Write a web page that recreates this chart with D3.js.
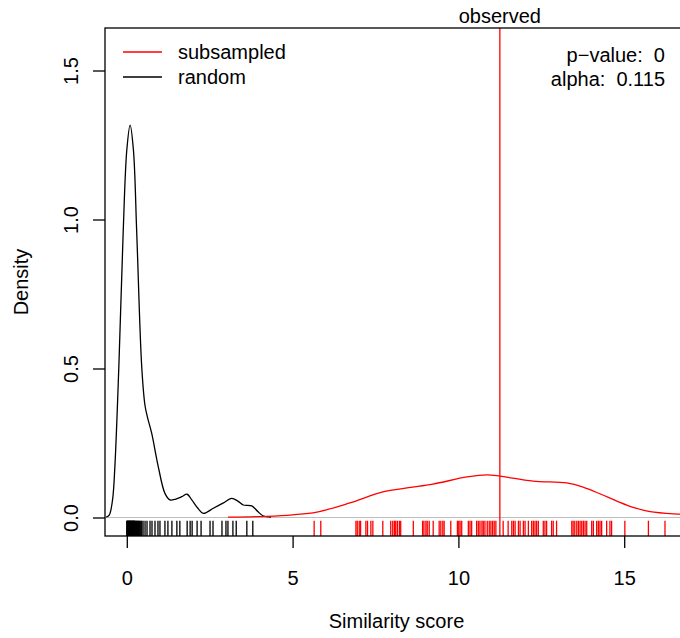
<!DOCTYPE html>
<html>
<head>
<meta charset="utf-8">
<script src="https://cdn.jsdelivr.net/npm/d3@7"></script>
<style>
  body { margin: 0; background: #fff; }
  svg { display: block; font-family: "Liberation Sans", Arial, Helvetica, sans-serif; }
</style>
</head>
<body>
<div id="chart"></div>
<script>
// density curve of the random scores (x = score, y = density)
const randomX = [-0.62, -0.53, -0.43, -0.36, -0.24, -0.11, 0.0, 0.10, 0.20, 0.30, 0.45, 0.55, 0.62, 0.75, 0.95, 1.15, 1.30, 1.48, 1.66, 1.82, 1.96, 2.15, 2.31, 2.61, 2.90, 3.16, 3.35, 3.51, 3.77, 3.95, 4.12, 4.35];
const randomY = [0.001, 0.008, 0.059, 0.170, 0.506, 0.954, 1.233, 1.317, 1.233, 0.954, 0.506, 0.375, 0.338, 0.283, 0.170, 0.081, 0.059, 0.062, 0.070, 0.078, 0.059, 0.030, 0.014, 0.031, 0.048, 0.064, 0.055, 0.042, 0.039, 0.020, 0.005, 0.001];

// density curve of the subsampled scores
const subsampledX = [3.05, 4.23, 5.0, 5.73, 6.73, 7.72, 8.5, 9.23, 10.26, 10.86, 11.25, 12.25, 13.27, 13.76, 14.3, 14.78, 15.3, 15.78, 16.68, 17.5];
const subsampledY = [0.001, 0.004, 0.009, 0.018, 0.049, 0.086, 0.100, 0.112, 0.136, 0.143, 0.139, 0.122, 0.116, 0.102, 0.078, 0.055, 0.033, 0.020, 0.011, 0.006];

// rug values
const randomRug = [0.00, 0.01, 0.02, 0.03, 0.04, 0.05, 0.06, 0.07, 0.08, 0.09, 0.10, 0.11, 0.12, 0.13, 0.14, 0.15, 0.16, 0.17, 0.18, 0.19,
  0.20, 0.21, 0.22, 0.23, 0.24, 0.25, 0.27, 0.29, 0.31, 0.33, 0.35, 0.37, 0.39, 0.42, 0.45,
  0.49, 0.55, 0.61, 0.70, 0.76, 0.85, 0.94, 1.00, 1.15, 1.24, 1.36, 1.51, 1.60, 1.82, 1.91, 1.97, 2.12, 2.24, 2.51, 2.60, 2.87, 2.99, 3.05, 3.20, 3.30, 3.62, 3.80];
const subsampledRug = [5.65, 5.85, 6.91, 6.95, 7.01, 7.05, 7.21, 7.26, 7.36, 7.42, 7.72, 7.96, 8.02, 8.07, 8.11, 8.16, 8.22, 8.26, 8.64,
  8.92, 8.96, 9.02, 9.06, 9.12, 9.24, 9.42, 9.47, 9.53, 9.57, 9.77, 9.97, 10.01, 10.05, 10.10, 10.30, 10.35, 10.40,
  10.55, 10.60, 10.65, 10.71, 10.75, 10.80, 10.87, 10.93, 10.98, 11.03, 11.08, 11.13, 11.35, 11.50, 11.61, 11.66, 11.71,
  11.81, 11.86, 11.96, 12.01, 12.11, 12.21, 12.26, 12.31, 12.36, 12.41, 12.56, 12.61, 12.66, 12.81, 12.86, 12.96,
  13.42, 13.46, 13.51, 13.57, 13.62, 13.67, 13.72, 13.77, 13.82, 13.87, 14.02, 14.07, 14.17, 14.22, 14.27, 14.32,
  14.47, 14.57, 14.62, 15.02, 15.73, 16.23];

const observed = 11.25;
const xTicks = [0, 5, 10, 15];
const yTicks = [0, 0.5, 1.0, 1.5];
const legendLabels = ["subsampled", "random"];
const legendColors = ["#ff0000", "#000000"];
const statLabels = ["p\u2212value:  0", "alpha:  0.115"];

const width = 680, height = 638;
const plotLeft = 105, plotTop = 28, plotBottom = 536;
const fs = "20px";

const svg = d3.select("#chart").append("svg").attr("width", width).attr("height", height);

const x = d3.scaleLinear().domain([0, 15]).range([126.8, 624.2]);
const y = d3.scaleLinear().domain([0, 1.5]).range([517.5, 70.5]);

svg.append("defs").append("clipPath").attr("id", "plotclip")
   .append("rect").attr("x", plotLeft).attr("y", plotTop).attr("width", width + 50 - plotLeft).attr("height", plotBottom - plotTop);

const plot = svg.append("g").attr("clip-path", "url(#plotclip)");

// zero line
plot.append("line")
   .attr("x1", plotLeft).attr("x2", width + 10)
   .attr("y1", y(0)).attr("y2", y(0))
   .attr("stroke", "#bebebe").attr("stroke-width", 1.2);

const line = d3.line().x(d => x(d[0])).y(d => y(d[1])).curve(d3.curveCatmullRom.alpha(0.5));

plot.append("path")
   .datum(randomX.map((v, i) => [v, randomY[i]]))
   .attr("d", line).attr("fill", "none").attr("stroke", "#000").attr("stroke-width", 1.3);

plot.append("path")
   .datum(subsampledX.map((v, i) => [v, subsampledY[i]]))
   .attr("d", line).attr("fill", "none").attr("stroke", "#ff0000").attr("stroke-width", 1.3);

// rugs
const rugTop = plotBottom - 15.3;
plot.selectAll(".rug-random").data(randomRug).enter().append("line")
   .attr("class", "rug-random")
   .attr("x1", d => x(d)).attr("x2", d => x(d))
   .attr("y1", rugTop).attr("y2", plotBottom)
   .attr("stroke", "#000").attr("stroke-width", 1.3);

plot.selectAll(".rug-sub").data(subsampledRug).enter().append("line")
   .attr("class", "rug-sub")
   .attr("x1", d => x(d)).attr("x2", d => x(d))
   .attr("y1", rugTop).attr("y2", plotBottom)
   .attr("stroke", "#ff0000").attr("stroke-width", 1.3);

// observed line
plot.append("line")
   .attr("x1", x(observed)).attr("x2", x(observed))
   .attr("y1", plotTop).attr("y2", plotBottom)
   .attr("stroke", "#ff0000").attr("stroke-width", 1.3);

// box
svg.append("rect")
   .attr("x", plotLeft).attr("y", plotTop)
   .attr("width", width + 50 - plotLeft).attr("height", plotBottom - plotTop)
   .attr("fill", "none").attr("stroke", "#000").attr("stroke-width", 1.3);

// x axis
const xAxis = svg.append("g")
   .attr("transform", `translate(0,${plotBottom})`)
   .call(d3.axisBottom(x).tickValues(xTicks).tickSize(12).tickPadding(23).tickFormat(d3.format("d")));
xAxis.select(".domain").remove();
xAxis.selectAll("line").attr("stroke", "#000").attr("stroke-width", 1.3);
xAxis.selectAll("text").attr("fill", "#000").style("font-size", fs).style("font-family", "Liberation Sans, Arial, sans-serif");

// y axis, labels parallel to the axis
const yAxis = svg.append("g")
   .attr("transform", `translate(${plotLeft},0)`)
   .call(d3.axisLeft(y).tickValues(yTicks).tickSize(12).tickFormat(d3.format(".1f")));
yAxis.select(".domain").remove();
yAxis.selectAll("line").attr("stroke", "#000").attr("stroke-width", 1.3);
yAxis.selectAll("text")
   .attr("x", null).attr("dy", null)
   .attr("text-anchor", "middle")
   .attr("transform", "translate(-27,0) rotate(-90)")
   .attr("fill", "#000").style("font-size", fs).style("font-family", "Liberation Sans, Arial, sans-serif");

// axis titles
svg.append("text")
   .attr("x", (plotLeft + 680) / 2 + 4).attr("y", 628)
   .attr("text-anchor", "middle").style("font-size", fs)
   .text("Similarity score");

svg.append("text")
   .attr("transform", `translate(28,${(plotTop + plotBottom) / 2}) rotate(-90)`)
   .attr("text-anchor", "middle").style("font-size", fs)
   .text("Density");

// observed label
svg.append("text")
   .attr("x", x(observed)).attr("y", 23)
   .attr("text-anchor", "middle").style("font-size", fs)
   .text("observed");

// legend
const legend = svg.append("g");
legendLabels.forEach((lab, i) => {
   const ly = 52 + i * 25;
   legend.append("line")
      .attr("x1", 123).attr("x2", 162).attr("y1", ly).attr("y2", ly)
      .attr("stroke", legendColors[i]).attr("stroke-width", 1.3);
   legend.append("text")
      .attr("x", 178).attr("y", ly + 7.2)
      .style("font-size", fs).text(lab);
});

// stats (keep the double spaces)
statLabels.forEach((lab, i) => {
   svg.append("text")
      .attr("x", 665).attr("y", 61.7 + i * 24.3)
      .attr("text-anchor", "end").style("font-size", fs)
      .style("white-space", "pre")
      .text(lab);
});
</script>
</body>
</html>
